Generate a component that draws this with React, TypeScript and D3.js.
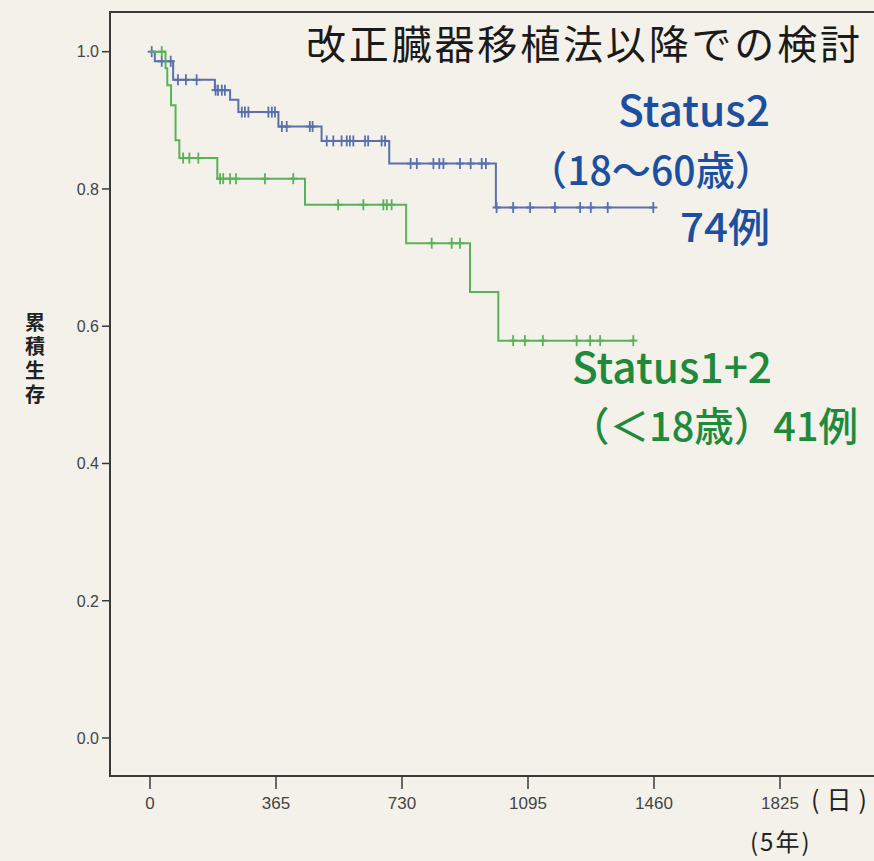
import React from "react";
import * as d3 from "d3";

const W = 874;
const H = 861;

// Kaplan–Meier steps: [day, survival]
const blueSteps: [number, number][] = [
  [0, 1.0], [14, 0.986], [67, 0.959], [188, 0.944], [232, 0.93], [256, 0.912],
  [372, 0.891], [497, 0.87], [693, 0.837], [1002, 0.773],
];
const blueEnd = 1458;
const blueCensored = [
  5, 34, 60, 81, 104, 135, 190, 197, 208, 217, 266, 275, 285, 343, 353, 362,
  382, 396, 463, 471, 512, 531, 555, 570, 579, 589, 623, 632, 671, 681, 755,
  773, 821, 838, 850, 898, 929, 961, 973, 1004, 1052, 1101, 1173, 1246, 1277,
  1326, 1458,
];

const greenSteps: [number, number][] = [
  [0, 1.0], [45, 0.976], [50, 0.951], [61, 0.922], [74, 0.871], [85, 0.845],
  [195, 0.815], [449, 0.777], [742, 0.721], [927, 0.65], [1009, 0.579],
];
const greenEnd = 1400;
const greenCensored = [
  34, 96, 114, 140, 203, 212, 232, 249, 333, 415, 545, 618, 676, 686, 700,
  816, 874, 898, 1052, 1086, 1138, 1236, 1275, 1304, 1400,
];

const xTicks = [0, 365, 730, 1095, 1460, 1825];
const yTicks = [0, 0.2, 0.4, 0.6, 0.8, 1.0];

const title = "改正臓器移植法以降での検討";
const yTitle = "累積生存";
const blueLabel = ["Status2", "（18〜60歳）", "74例"];
const greenLabel = ["Status1+2", "（＜18歳）41例"];

const BLUE_LINE = "#5a70ad";
const GREEN_LINE = "#58b25a";
const BLUE_TEXT = "#1c4f9f";
const GREEN_TEXT = "#1f8a3c";
const BG = "#f3f1e9";
const AXIS = "#3a3a3a";

const FRAME_L = 110;
const FRAME_T = 12;
const FRAME_B = 776;

export default function App() {
  const x = d3.scaleLinear().domain([0, 1825]).range([150, 780]);
  const y = d3.scaleLinear().domain([0, 1]).range([738, 51.7]);

  const line = d3
    .line<[number, number]>()
    .x((d) => x(d[0]))
    .y((d) => y(d[1]))
    .curve(d3.curveStepAfter);

  const survAt = (steps: [number, number][], t: number) => {
    let s = steps[0][1];
    for (const [tt, ss] of steps) if (tt <= t) s = ss;
    return s;
  };

  const series = [
    { steps: blueSteps, end: blueEnd, cens: blueCensored, color: BLUE_LINE },
    { steps: greenSteps, end: greenEnd, cens: greenCensored, color: GREEN_LINE },
  ];

  const font = "'Noto Sans CJK JP', 'Noto Sans', sans-serif";
  const numFont = "'Liberation Sans', Arial, sans-serif";

  return (
    <svg width={W} height={H} style={{ display: "block", position: "absolute", left: 0, top: 0 }}>
      <rect x={0} y={0} width={W} height={H} fill={BG} />
      {/* frame */}
      <path
        d={`M${W + 5},${FRAME_T} L${FRAME_L},${FRAME_T} L${FRAME_L},${FRAME_B} L${W + 5},${FRAME_B}`}
        fill="none"
        stroke={AXIS}
        strokeWidth={2}
      />
      {/* y ticks */}
      {yTicks.map((t) => (
        <g key={"y" + t}>
          <line x1={FRAME_L - 8} x2={FRAME_L} y1={y(t)} y2={y(t)} stroke={AXIS} strokeWidth={1.5} />
          <text
            x={FRAME_L - 11}
            y={y(t)}
            dy="0.36em"
            textAnchor="end"
            fontFamily={numFont}
            fontSize={16}
            fill="#444"
          >
            {t.toFixed(1)}
          </text>
        </g>
      ))}
      {/* x ticks */}
      {xTicks.map((t) => (
        <g key={"x" + t}>
          <line x1={x(t)} x2={x(t)} y1={FRAME_B} y2={FRAME_B + 13} stroke={AXIS} strokeWidth={1.5} />
          <text
            x={x(t)}
            y={809}
            textAnchor="middle"
            fontFamily={numFont}
            fontSize={17}
            fill="#444"
          >
            {t}
          </text>
        </g>
      ))}
      <text x={811} y={809} fontFamily={font} fontSize={25} fill="#222" letterSpacing={7}>
        (日)
      </text>
      <text x={750} y={851} fontFamily={font} fontSize={24} fill="#222" letterSpacing={2}>
        (5年)
      </text>
      {/* y title */}
      <text
        x={35}
        y={312}
        writingMode="vertical-rl"
        fontFamily={font}
        fontSize={20}
        fontWeight={700}
        letterSpacing={4}
        fill="#222"
      >
        {yTitle}
      </text>
      {/* curves */}
      {series.map((s, i) => {
        const pts: [number, number][] = [...s.steps, [s.end, s.steps[s.steps.length - 1][1]]];
        return (
          <g key={i}>
            <path d={line(pts) || ""} fill="none" stroke={s.color} strokeWidth={2} />
            {s.cens.map((t, j) => {
              const sv = survAt(s.steps, t);
              return (
                <g key={j}>
                  <line x1={x(t)} x2={x(t)} y1={y(sv) - 5.5} y2={y(sv) + 5.5} stroke={s.color} strokeWidth={1.8} />
                  <line x1={x(t) - 4} x2={x(t) + 4} y1={y(sv)} y2={y(sv)} stroke={s.color} strokeWidth={2} />
                </g>
              );
            })}
          </g>
        );
      })}
      {/* title */}
      <text x={306} y={59} fontFamily={font} fontSize={40} fill="#1a1a1a" textLength={554} lengthAdjust="spacing">
        {title}
      </text>
      {/* blue label */}
      <text x={770} y={126} textAnchor="end" fontFamily={font} fontSize={42} fontWeight={500} fill={BLUE_TEXT} textLength={152} lengthAdjust="spacingAndGlyphs">
        {blueLabel[0]}
      </text>
      <text x={528} y={185} fontFamily={font} fontSize={40} fontWeight={500} fill={BLUE_TEXT} textLength={246} lengthAdjust="spacingAndGlyphs">
        {blueLabel[1]}
      </text>
      <text x={770} y={242} textAnchor="end" fontFamily={font} fontSize={40} fontWeight={500} fill={BLUE_TEXT} textLength={90} lengthAdjust="spacingAndGlyphs">
        {blueLabel[2]}
      </text>
      {/* green label */}
      <text x={572} y={383} fontFamily={font} fontSize={42} fontWeight={500} fill={GREEN_TEXT} textLength={200} lengthAdjust="spacingAndGlyphs">
        {greenLabel[0]}
      </text>
      <text x={570} y={441} fontFamily={font} fontSize={40} fontWeight={500} fill={GREEN_TEXT} textLength={288} lengthAdjust="spacingAndGlyphs">
        {greenLabel[1]}
      </text>
    </svg>
  );
}
